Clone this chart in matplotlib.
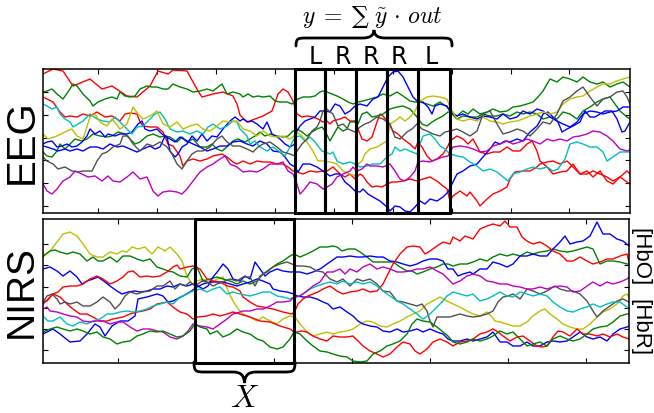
import matplotlib
matplotlib.use("Agg")
import matplotlib.pyplot as plt
from matplotlib.patches import Rectangle, PathPatch
from matplotlib.path import Path
from matplotlib import font_manager

plt.rcParams['mathtext.fontset'] = 'cm'

# ---------------- data (time, amplitude) ----------------
eeg_red1 = [(43,75),(53,70),(63,72),(73,87),(90,80),(102,90),(112,87),(127,97),(137,98),(150,87),(158,72),(168,75),(173,71),(187,72),(198,92),(202,98),(213,95),(223,93),(233,97),(237,105),(240,116),(247,123),(255,120),(263,117),(272,112),(278,95),(283,90),(288,93),(293,102),(297,115),(302,118),(307,117),(313,118),(318,120),(323,123),(327,122),(330,125),(333,122),(340,120),(345,118),(350,122),(355,122),(358,130),(362,140),(367,142),(372,138),(377,123),(380,115),(383,117),(387,122),(390,127),(393,132),(398,135),(403,140),(410,145),(415,150),(418,143),(422,148),(427,157),(432,162),(437,160),(443,155),(448,147),(450,142),(457,137),(463,140),(468,145),(473,140),(480,153),(487,155),(493,153),(500,153),(507,148),(513,152),(520,152),(527,145),(532,142),(537,152),(540,162),(547,168),(553,175),(560,173),(567,172),(573,165),(580,175),(587,175),(593,172),(600,175),(607,178),(613,182),(620,178),(627,172),(630,175)]
eeg_red2 = [(43,98),(47,100),(53,103),(60,113),(65,118),(70,117),(77,118),(83,115),(90,117),(97,113),(105,118),(112,117),(120,122),(125,115),(130,114),(137,115),(140,123),(143,127),(150,128),(157,128),(163,133),(168,145),(173,147),(180,157),(183,167),(187,162),(193,160),(200,162),(207,160),(213,157),(222,155),(227,158),(233,163),(237,165),(243,162),(250,165),(257,162),(263,163),(270,163),(277,165),(283,165),(288,168),(293,172),(297,173),(303,175),(310,172),(317,173),(323,172),(327,172),(333,168),(340,175),(345,178),(350,175),(355,180),(360,175),(363,177),(367,183),(372,188),(377,187),(382,188),(387,185),(392,183),(397,183),(403,182),(410,180),(417,182),(423,180),(430,178),(437,182),(443,187),(447,190),(450,202),(453,197),(460,192),(467,197),(470,193),(477,202),(480,207),(487,200),(493,195),(500,192),(507,188),(510,180),(515,173),(523,172),(530,172),(537,168),(540,165),(547,163),(553,162),(560,165),(567,162),(573,168),(580,175),(587,172),(593,178),(600,172),(607,182),(613,185),(620,178),(627,183),(630,185)]
eeg_green1 = [(43,93),(47,92),(52,90),(57,95),(63,100),(68,93),(73,85),(77,87),(83,95),(90,102),(93,107),(98,103),(105,100),(112,98),(117,100),(120,93),(125,97),(130,98),(135,97),(140,90),(147,87),(152,88),(157,88),(163,90),(168,90),(173,85),(180,88),(187,90),(193,93),(200,92),(207,90),(213,92),(222,85),(227,95),(233,93),(240,95),(243,98),(248,95),(253,98),(258,97),(263,98),(270,97),(275,102),(280,103),(287,103),(292,105),(298,100),(303,98),(310,98),(315,97),(320,93),(323,92),(327,93),(332,95),(337,97),(343,100),(348,103),(353,105),(358,103),(363,102),(370,100),(377,98),(383,95),(390,97),(397,93),(403,97),(410,102),(415,103),(420,103),(427,105),(433,107),(440,103),(447,108),(452,115),(457,120),(463,117),(470,118),(477,118),(483,115),(490,117),(497,117),(503,115),(510,117),(517,113),(523,115),(530,113),(537,115),(543,120),(550,118),(557,120),(563,113),(570,115),(577,120),(583,112),(590,108),(597,103),(603,100),(610,98),(615,105),(620,112),(627,118),(630,120)]
eeg_green2 = [(43,153),(47,157),(52,158),(57,152),(60,145),(65,150),(70,145),(75,140),(82,142),(87,140),(93,135),(100,137),(107,138),(112,137),(118,133),(125,135),(130,140),(135,145),(140,143),(147,137),(153,135),(160,138),(165,137),(170,138),(177,143),(182,138),(187,143),(193,140),(200,148),(207,148),(212,145),(217,150),(222,152),(228,147),(233,142),(238,140),(245,143),(250,140),(255,137),(260,133),(265,137),(270,135),(277,137),(283,138),(288,137),(293,132),(297,130),(302,133),(307,137),(312,133),(317,130),(322,128),(325,132),(330,142),(335,133),(338,128),(343,132),(347,130),(350,123),(355,123),(358,125),(362,115),(367,113),(372,118),(377,117),(383,115),(390,110),(397,108),(403,107),(410,110),(417,118),(422,125),(427,127),(432,123),(437,120),(443,117),(448,113),(450,113),(457,117),(463,112),(468,115),(473,110),(480,115),(487,113),(493,110),(500,113),(507,112),(513,108),(520,107),(527,105),(533,103),(538,98),(543,92),(550,80),(557,83),(563,78),(570,80),(577,83),(583,78),(590,83),(597,85),(603,83),(610,88),(617,85),(623,83),(630,88)]
eeg_blue1 = [(43,145),(47,143),(52,142),(57,148),(62,147),(67,145),(72,148),(77,147),(82,143),(87,137),(90,130),(95,135),(100,132),(105,138),(108,135),(115,137),(120,135),(127,135),(132,133),(138,125),(142,122),(145,130),(150,132),(157,130),(162,135),(167,138),(170,152),(175,158),(178,155),(182,148),(187,145),(192,137),(197,142),(202,135),(207,142),(212,137),(217,138),(223,130),(230,122),(235,118),(240,122),(243,120),(248,123),(252,122),(257,125),(263,130),(267,123),(272,135),(277,138),(280,140),(285,145),(290,148),(295,145),(297,132),(300,127),(305,122),(310,120),(315,118),(320,112),(325,112),(330,113),(335,105),(340,107),(345,115),(350,112),(355,107),(360,105),(367,107),(373,100),(378,98),(383,88),(388,78),(393,73),(398,72),(403,78),(408,88),(413,98),(418,103),(423,103),(428,108),(432,115),(435,107),(440,105),(447,107),(450,112),(457,117),(463,115),(470,118),(477,120),(483,117),(490,118),(497,120),(503,115),(510,120),(517,118),(523,112),(530,115),(537,110),(543,112),(550,118),(557,122),(563,125),(570,128),(577,123),(583,115),(590,112),(597,113),(603,115),(610,113),(617,112),(623,108),(630,108)]
eeg_blue2 = [(43,147),(47,148),(53,150),(58,152),(65,150),(70,152),(77,150),(83,152),(90,148),(97,148),(103,150),(110,145),(117,148),(123,147),(130,150),(137,153),(143,150),(150,147),(155,150),(160,148),(165,137),(170,140),(175,143),(180,138),(187,142),(193,145),(200,148),(207,152),(213,150),(220,147),(227,147),(233,143),(240,142),(247,145),(253,147),(260,142),(267,145),(273,152),(280,153),(285,158),(290,165),(295,168),(298,173),(303,165),(310,165),(317,168),(323,172),(330,177),(335,175),(340,175),(345,183),(350,187),(355,192),(360,193),(363,190),(368,195),(373,198),(380,202),(387,208),(390,212),(395,207),(400,208),(405,212),(410,213),(415,208),(420,202),(425,205),(430,200),(437,202),(443,198),(448,193),(452,185),(457,175),(463,172),(470,167),(477,165),(483,158),(490,150),(495,143),(500,145),(505,142),(510,143),(517,140),(523,142),(530,133),(537,127),(540,122),(543,115),(548,113),(553,118),(558,123),(562,133),(567,130),(573,127),(580,123),(585,112),(590,118),(595,118),(600,115),(605,112),(612,112),(617,120),(622,133),(625,132),(630,123)]
eeg_cyan = [(43,105),(47,107),(52,110),(57,108),(60,115),(65,120),(70,123),(73,128),(78,125),(83,122),(90,115),(97,120),(103,122),(110,123),(115,118),(120,123),(127,130),(132,135),(137,128),(143,127),(148,122),(155,115),(160,113),(165,120),(170,130),(177,133),(183,132),(190,135),(197,132),(203,135),(208,128),(213,125),(220,130),(227,127),(233,122),(237,123),(240,130),(247,137),(250,145),(255,142),(260,148),(267,152),(273,148),(280,153),(285,157),(290,148),(295,138),(300,137),(305,142),(310,138),(315,143),(318,147),(322,152),(325,153),(330,155),(333,153),(337,162),(343,165),(350,163),(355,165),(360,168),(367,167),(373,165),(380,165),(387,158),(392,155),(395,148),(400,152),(405,150),(412,153),(417,155),(420,145),(423,137),(430,135),(435,140),(440,147),(445,150),(450,155),(457,157),(463,158),(470,163),(477,167),(483,172),(490,170),(497,173),(503,178),(508,182),(513,175),(520,173),(527,170),(533,168),(540,170),(547,168),(553,172),(558,170),(565,160),(570,145),(577,143),(583,145),(590,148),(597,148),(603,153),(607,162),(613,158),(620,153),(627,153),(630,153)]
eeg_yellow = [(43,135),(48,140),(57,137),(67,132),(72,130),(77,137),(83,140),(90,118),(95,115),(100,123),(107,127),(112,120),(120,130),(127,125),(133,108),(138,115),(143,120),(150,117),(157,112),(163,125),(170,128),(177,123),(183,130),(190,127),(197,125),(203,130),(210,132),(217,127),(223,122),(230,123),(237,122),(243,130),(250,132),(257,137),(263,132),(270,137),(277,138),(283,137),(290,140),(293,138),(297,133),(302,137),(307,143),(313,152),(318,162),(323,162),(330,163),(337,165),(343,172),(350,175),(355,177),(358,165),(362,162),(365,155),(370,150),(377,148),(382,145),(387,142),(390,125),(395,122),(400,118),(405,122),(410,118),(415,112),(420,102),(427,98),(433,97),(440,98),(447,100),(450,108),(457,120),(463,122),(470,120),(477,122),(483,118),(490,122),(497,123),(503,125),(510,123),(517,122),(523,120),(530,117),(537,115),(543,113),(550,115),(557,113),(563,105),(570,100),(577,98),(583,97),(590,92),(597,88),(603,85),(610,85),(617,82),(623,80),(630,78)]
eeg_gray = [(43,158),(47,162),(53,165),(58,170),(65,168),(72,172),(78,173),(83,172),(92,172),(97,162),(102,155),(107,153),(113,148),(120,145),(123,137),(128,137),(133,145),(140,152),(147,145),(153,147),(160,143),(167,148),(172,155),(177,165),(182,170),(187,162),(192,155),(197,152),(203,152),(210,148),(217,140),(222,137),(227,143),(233,147),(240,147),(247,150),(253,153),(258,148),(263,145),(270,143),(277,148),(283,153),(290,155),(295,157),(297,152),(302,145),(307,140),(312,132),(317,128),(320,122),(323,112),(327,110),(330,113),(333,115),(338,127),(343,125),(348,130),(355,133),(360,128),(365,125),(370,123),(377,118),(383,120),(390,125),(395,138),(400,140),(407,133),(412,130),(417,125),(422,130),(427,132),(433,135),(440,137),(445,133),(450,132),(457,130),(463,133),(470,137),(477,132),(483,115),(490,112),(497,125),(503,135),(510,133),(517,130),(523,132),(530,137),(537,130),(543,123),(550,125),(557,115),(563,102),(570,98),(577,92),(583,88),(590,98),(597,107),(603,100),(610,98),(617,93),(623,92),(627,98),(630,105)]
eeg_magenta = [(43,185),(47,192),(52,195),(57,190),(63,182),(70,178),(75,172),(82,175),(88,178),(95,177),(102,182),(108,177),(113,182),(120,183),(127,178),(133,173),(140,180),(147,178),(153,192),(158,197),(163,193),(170,192),(177,193),(182,195),(187,190),(193,182),(200,173),(207,168),(213,165),(220,160),(225,157),(230,165),(237,168),(243,173),(250,172),(257,173),(263,170),(270,165),(277,165),(283,163),(288,172),(293,175),(297,185),(300,195),(303,192),(310,183),(317,185),(323,190),(327,188),(332,185),(337,178),(343,175),(350,172),(353,168),(357,172),(362,170),(367,165),(370,167),(377,167),(383,168),(390,165),(395,172),(400,180),(405,182),(410,178),(415,172),(418,163),(423,162),(430,163),(437,160),(443,158),(448,157),(453,148),(460,147),(467,148),(473,150),(480,153),(487,152),(493,147),(500,145),(507,142),(513,145),(520,143),(527,140),(533,142),(540,145),(547,140),(553,142),(560,140),(567,142),(573,138),(580,137),(587,135),(593,132),(600,133),(607,137),(613,142),(620,150),(627,152),(630,151)]

nirs_yellow = [(43,258),(50,252),(57,243),(63,235),(70,233),(77,237),(83,245),(90,255),(97,258),(103,258),(110,253),(117,255),(122,252),(127,253),(132,248),(138,250),(145,248),(152,255),(158,248),(165,252),(170,248),(177,255),(182,262),(187,277),(192,285),(197,282),(203,280),(210,285),(217,280),(223,278),(228,292),(233,302),(238,310),(243,315),(250,318),(257,322),(263,318),(270,322),(277,325),(283,320),(290,317),(295,318),(300,325),(307,333),(313,337),(320,335),(327,333),(333,335),(340,333),(347,332),(353,330),(360,325),(367,322),(373,323),(380,327),(387,328),(393,325),(400,322),(407,318),(413,315),(420,312),(427,305),(433,302),(440,298),(447,302),(453,305),(460,308),(467,312),(473,315),(480,317),(487,313),(492,318),(495,322),(500,323),(507,325),(513,327),(520,327),(527,323),(533,317),(540,312),(545,310),(550,315),(557,320),(563,325),(570,328),(577,330),(583,330),(590,325),(597,318),(603,313),(610,310),(617,305),(623,297),(627,295),(629,298)]
nirs_green1 = [(43,257),(50,252),(55,251),(60,253),(67,255),(73,253),(80,255),(87,262),(93,258),(98,262),(103,262),(110,258),(117,263),(123,257),(130,257),(137,260),(143,262),(150,260),(157,268),(163,270),(168,272),(173,273),(180,277),(187,278),(192,270),(197,268),(203,282),(210,280),(217,278),(223,280),(230,282),(237,285),(243,282),(250,285),(257,282),(263,275),(270,270),(277,265),(283,262),(290,257),(294,255),(300,258),(307,255),(313,252),(320,248),(327,248),(333,247),(337,248),(342,252),(348,250),(355,250),(360,253),(367,258),(373,263),(380,263),(387,263),(393,263),(400,268),(407,272),(412,272),(417,275),(423,273),(430,270),(437,268),(443,265),(448,265),(453,267),(460,265),(467,265),(473,263),(480,260),(487,262),(493,258),(500,255),(507,257),(513,255),(520,257),(527,253),(533,255),(540,253),(547,252),(553,250),(560,252),(567,253),(573,252),(580,250),(587,248),(593,250),(600,265),(607,262),(613,262),(620,263),(627,265),(629,265)]
nirs_blue1 = [(43,270),(50,268),(57,272),(63,277),(70,272),(77,278),(82,285),(87,282),(93,280),(98,278),(105,283),(110,287),(117,292),(122,295),(128,293),(135,292),(140,293),(147,292),(153,290),(160,290),(167,287),(173,288),(180,285),(187,287),(193,285),(198,287),(203,290),(208,287),(213,278),(218,272),(223,265),(228,270),(233,280),(240,282),(245,277),(250,280),(255,263),(260,270),(265,277),(270,273),(277,270),(283,272),(290,273),(294,273),(300,273),(307,275),(313,273),(320,270),(327,265),(330,263),(337,258),(343,258),(350,257),(357,258),(363,258),(370,257),(377,258),(383,258),(390,262),(397,263),(403,265),(410,267),(417,265),(423,262),(430,260),(437,260),(443,262),(448,270),(453,270),(458,277),(463,275),(470,273),(473,275),(480,270),(487,270),(493,263),(500,265),(507,268),(513,265),(520,257),(527,257),(533,255),(540,257),(547,257),(553,250),(560,243),(565,237),(570,245),(577,243),(583,242),(590,237),(597,223),(603,235),(610,235),(617,240),(623,242),(629,247)]
nirs_blue2 = [(43,335),(53,330),(60,335),(70,343),(80,342),(87,335),(95,325),(100,328),(105,337),(112,327),(120,322),(128,322),(135,317),(138,300),(147,298),(157,295),(163,297),(168,303),(173,302),(183,297),(190,293),(197,288),(203,285),(210,283),(217,283),(223,283),(230,285),(237,287),(243,285),(250,283),(257,280),(263,282),(270,285),(273,290),(280,292),(287,293),(294,295),(297,297),(303,298),(310,298),(317,300),(323,303),(328,305),(333,310),(340,308),(347,313),(353,317),(358,322),(363,325),(370,327),(377,328),(383,332),(390,333),(397,330),(403,333),(410,332),(417,330),(423,333),(430,330),(437,333),(443,335),(448,340),(453,342),(460,342),(467,340),(473,342),(480,340),(487,338),(493,333),(500,343),(507,343),(513,347),(520,347),(527,343),(533,347),(540,347),(547,343),(553,342),(560,343),(567,342),(573,338),(580,333),(587,338),(593,340),(600,338),(607,342),(613,335),(620,330),(627,328),(629,327)]
nirs_red1 = [(43,305),(48,300),(53,295),(58,293),(63,288),(70,287),(77,287),(83,285),(90,280),(97,277),(103,280),(110,285),(117,282),(123,278),(128,273),(133,272),(140,278),(147,277),(153,278),(160,277),(167,273),(173,268),(177,266),(180,270),(187,268),(193,267),(200,270),(207,280),(213,282),(220,283),(227,287),(233,288),(240,292),(243,298),(250,303),(257,307),(263,308),(273,310),(283,313),(292,315),(295,312),(298,305),(303,300),(308,297),(313,295),(318,293),(323,290),(330,287),(337,292),(343,295),(350,293),(357,292),(363,290),(370,293),(377,292),(383,285),(388,275),(393,265),(400,255),(407,248),(413,247),(420,248),(425,255),(430,252),(437,247),(443,243),(450,245),(453,238),(460,242),(465,237),(473,240),(480,230),(487,227),(493,225),(500,227),(505,222),(510,228),(517,228),(522,238),(527,242),(533,245),(540,243),(547,247),(553,252),(560,255),(567,262),(573,262),(580,258),(587,262),(593,265),(600,263),(607,260),(613,260),(620,257),(627,255),(629,263)]
nirs_red2 = [(43,303),(47,302),(53,295),(60,298),(67,305),(73,310),(80,315),(87,315),(93,318),(100,322),(107,322),(113,320),(123,318),(130,315),(137,313),(143,312),(150,310),(157,305),(167,303),(173,308),(180,313),(187,315),(193,320),(198,318),(207,317),(213,315),(220,317),(227,315),(233,313),(240,315),(250,318),(260,322),(270,323),(280,327),(290,330),(294,333),(297,333),(302,332),(307,333),(313,337),(320,340),(327,342),(333,337),(340,338),(347,338),(353,337),(358,342),(363,347),(370,352),(377,355),(383,358),(390,355),(397,348),(403,343),(410,345),(415,352),(420,355),(427,350),(433,343),(440,340),(447,343),(453,347),(460,343),(467,342),(473,340),(480,335),(487,333),(493,330),(498,333),(503,337),(510,342),(517,338),(523,337),(530,342),(537,347),(542,348),(547,347),(553,338),(558,332),(563,333),(570,337),(577,330),(583,335),(590,335),(597,337),(603,335),(610,338),(617,335),(623,338),(629,340)]
nirs_gray = [(43,303),(47,297),(52,295),(57,300),(60,305),(65,303),(70,305),(77,303),(83,307),(90,307),(97,303),(103,298),(110,303),(115,310),(120,305),(125,297),(130,293),(137,295),(143,293),(150,292),(157,287),(163,287),(170,282),(175,290),(180,285),(185,287),(190,283),(195,287),(202,282),(207,283),(213,287),(217,285),(223,283),(230,280),(237,282),(243,278),(250,278),(255,287),(260,277),(267,273),(273,268),(280,265),(287,263),(292,265),(297,267),(303,267),(310,268),(317,272),(323,273),(330,280),(337,283),(343,280),(350,287),(357,280),(363,282),(370,280),(377,285),(383,292),(390,293),(397,302),(403,303),(410,305),(417,307),(422,305),(427,312),(430,322),(433,328),(437,318),(443,318),(450,318),(453,317),(460,315),(467,317),(473,318),(480,317),(487,315),(493,312),(498,303),(503,298),(508,297),(513,295),(520,300),(527,290),(533,292),(540,295),(547,292),(555,287),(560,290),(567,292),(573,292),(580,295),(587,302),(593,312),(597,318),(603,312),(610,307),(617,302),(623,300),(629,303)]
nirs_cyan = [(43,317),(48,322),(53,322),(60,318),(67,325),(73,327),(80,323),(87,325),(93,322),(100,320),(107,315),(113,315),(120,313),(127,312),(133,313),(140,312),(147,310),(153,307),(160,305),(167,303),(173,305),(180,298),(187,295),(193,292),(200,290),(207,293),(213,290),(220,288),(227,295),(233,293),(240,295),(250,297),(257,295),(263,293),(270,293),(277,297),(283,298),(290,300),(294,298),(297,298),(303,295),(310,290),(317,287),(323,285),(330,283),(337,285),(343,282),(350,285),(357,283),(363,285),(370,283),(377,287),(383,292),(390,297),(397,302),(403,305),(410,310),(417,315),(423,320),(430,315),(437,308),(443,302),(447,297),(453,293),(460,295),(467,297),(473,295),(480,302),(487,300),(493,297),(500,293),(507,297),(513,298),(520,293),(527,295),(533,297),(540,295),(547,297),(553,303),(560,308),(567,312),(573,313),(580,310),(587,308),(593,305),(600,308),(607,305),(613,303),(620,303),(627,308),(629,310)]
nirs_magenta = [(43,310),(47,308),(50,312),(57,313),(63,315),(70,317),(77,318),(83,322),(90,323),(97,322),(103,322),(110,325),(117,323),(123,323),(130,328),(137,332),(143,330),(150,330),(157,332),(163,333),(170,338),(177,340),(183,337),(188,332),(193,325),(200,327),(207,328),(213,330),(220,325),(227,320),(233,315),(240,313),(243,312),(250,312),(257,310),(263,310),(270,307),(277,303),(283,303),(290,302),(294,298),(300,297),(307,292),(313,287),(320,283),(327,273),(333,273),(340,270),(345,275),(350,270),(357,273),(363,268),(370,265),(377,270),(383,268),(390,270),(397,273),(403,273),(410,272),(417,270),(423,270),(430,268),(437,272),(443,275),(448,280),(453,285),(460,282),(467,277),(473,275),(480,277),(487,282),(493,283),(500,285),(507,285),(513,287),(520,288),(527,290),(533,290),(540,288),(547,290),(553,288),(560,287),(567,288),(573,293),(580,292),(587,287),(593,283),(600,287),(607,283),(613,285),(620,283),(627,280),(629,278)]
nirs_green2 = [(43,333),(50,330),(57,328),(63,330),(70,332),(77,330),(83,332),(90,335),(97,333),(103,338),(110,340),(117,345),(123,343),(130,342),(137,337),(143,335),(150,332),(157,333),(163,332),(170,335),(177,338),(183,337),(190,332),(195,325),(200,328),(207,330),(210,335),(217,332),(223,338),(230,335),(237,330),(243,333),(250,335),(257,340),(263,342),(270,348),(277,350),(283,348),(290,340),(294,333),(300,335),(307,342),(313,347),(320,352),(327,353),(333,355),(340,357),(347,358),(353,362),(360,363),(367,362),(373,355),(380,352),(387,347),(393,345),(400,342),(407,335),(412,325),(417,320),(423,322),(430,323),(437,328),(443,333),(448,337),(453,343),(460,345),(467,343),(473,340),(480,342),(487,340),(493,337),(500,332),(507,335),(513,333),(520,340),(527,347),(533,345),(540,343),(547,347),(553,340),(560,337),(567,340),(573,342),(580,340),(587,335),(593,330),(600,328),(607,327),(613,323),(620,317),(627,315),(629,315)]

eeg_xticks = [98, 157, 216, 275, 334, 393, 452, 511, 569]
eeg_yticks = [93, 116, 139, 161, 184, 207]
nirs_xticks = [118, 196, 274, 352, 430, 508, 586]
nirs_yticks = [245, 266, 288, 309, 330, 351]
eeg_windows = [(295, 325), (325, 356), (356, 387), (387, 418), (418, 450)]
window_labels = ['L', 'R', 'R', 'R', 'L']
nirs_window = (195, 294)

# ---------------- styling ----------------
C = {'r': '#ff0000', 'g': '#008000', 'b': '#0000ff', 'c': '#00bfbf',
     'y': '#bfbf00', 'k': '#505050', 'm': '#bf00bf'}
eeg_series = [(eeg_red1, 'r'), (eeg_red2, 'r'), (eeg_green1, 'g'), (eeg_green2, 'g'),
              (eeg_blue1, 'b'), (eeg_blue2, 'b'), (eeg_cyan, 'c'), (eeg_yellow, 'y'),
              (eeg_gray, 'k'), (eeg_magenta, 'm')]
nirs_series = [(nirs_yellow, 'y'), (nirs_green1, 'g'), (nirs_blue1, 'b'), (nirs_blue2, 'b'),
               (nirs_red1, 'r'), (nirs_red2, 'r'), (nirs_gray, 'k'), (nirs_cyan, 'c'),
               (nirs_magenta, 'm'), (nirs_green2, 'g')]

W, H = 654, 414
fig = plt.figure(figsize=(W / 100, H / 100), dpi=100)

def fx(x):
    return x / W

def fy(y):
    return 1 - y / H

ax1 = fig.add_axes([fx(43), fy(214), fx(630) - fx(43), fy(70) - fy(214)])
ax2 = fig.add_axes([fx(43), fy(364), fx(629) - fx(43), fy(220) - fy(364)])

for ax, series, xl, yl, xt, yt in [(ax1, eeg_series, (43, 630), (214, 70), eeg_xticks, eeg_yticks),
                                   (ax2, nirs_series, (43, 629), (364, 220), nirs_xticks, nirs_yticks)]:
    for pts, col in series:
        xs, ys = zip(*pts)
        ax.plot(xs, ys, color=C[col], lw=1.0)
    ax.set_xlim(*xl)
    ax.set_ylim(*yl)
    ax.set_xticks(xt)
    ax.set_yticks(yt)
    ax.tick_params(direction='in', length=3.5, width=0.8, top=True, right=True,
                   labelbottom=False, labelleft=False)
    for s in ax.spines.values():
        s.set_linewidth(1.1)

for x0, x1 in eeg_windows:
    ax1.add_patch(Rectangle((x0, 0), x1 - x0, 1, transform=ax1.get_xaxis_transform(),
                            fill=False, ec='black', lw=2.2, clip_on=False, zorder=5))
ax2.add_patch(Rectangle((nirs_window[0], 0), nirs_window[1] - nirs_window[0], 1,
                        transform=ax2.get_xaxis_transform(), fill=False, ec='black',
                        lw=2.2, clip_on=False, zorder=5))

def brace(x0, x1, y_end, y_bar, y_tip, r=12):
    xm = (x0 + x1) / 2
    pts = [(x0, y_end),
           (x0, y_bar), (x0 + 2, y_bar), (x0 + r, y_bar),
           (xm - r, y_bar),
           (xm - r * 0.3, y_bar), (xm - 0.5, y_bar + (y_tip - y_bar) * 0.3), (xm, y_tip),
           (xm + 0.5, y_bar + (y_tip - y_bar) * 0.3), (xm + r * 0.3, y_bar), (xm + r, y_bar),
           (x1 - r, y_bar),
           (x1 - 2, y_bar), (x1, y_bar), (x1, y_end)]
    codes = [Path.MOVETO, Path.CURVE4, Path.CURVE4, Path.CURVE4, Path.LINETO,
             Path.CURVE4, Path.CURVE4, Path.CURVE4, Path.CURVE4, Path.CURVE4, Path.CURVE4,
             Path.LINETO, Path.CURVE4, Path.CURVE4, Path.CURVE4]
    verts = [(fx(a), fy(b)) for a, b in pts]
    fig.add_artist(PathPatch(Path(verts, codes), transform=fig.transFigure, fill=False,
                             ec='black', lw=2.0, capstyle='round'))

brace(296, 452, 47, 39, 31)
brace(194, 295, 363, 373, 384)

fig.text(fx(372), fy(17), r'$y\;=\;$' + '\u2211' + r'$\;\tilde{y}\,\cdot\,out$', fontsize=17,
         ha='center', va='center', family='DejaVu Serif')
for (x0, x1), lab, xc in zip(eeg_windows, window_labels, [315, 343, 371, 399, 431]):
    fig.text(fx(xc), fy(57), lab, fontsize=17, ha='center', va='center', family='DejaVu Sans')
fig.text(fx(245), fy(399), r'$X$', fontsize=23, ha='center', va='center')

avail = {f.name for f in font_manager.fontManager.ttflist}
side_font = 'Liberation Sans Narrow' if 'Liberation Sans Narrow' in avail else 'Liberation Sans'
fig.text(fx(22), fy(142), 'EEG', fontsize=29, rotation=90, ha='center', va='center', family=side_font)
fig.text(fx(22), fy(292), 'NIRS', fontsize=28, rotation=90, ha='center', va='center', family=side_font)
fig.text(fx(640), fy(257), '[HbO]', fontsize=16, rotation=270, ha='center', va='center', family='Liberation Sans')
fig.text(fx(640), fy(328), '[HbR]', fontsize=16, rotation=270, ha='center', va='center', family='Liberation Sans')

fig.savefig('out.png', dpi=100)
